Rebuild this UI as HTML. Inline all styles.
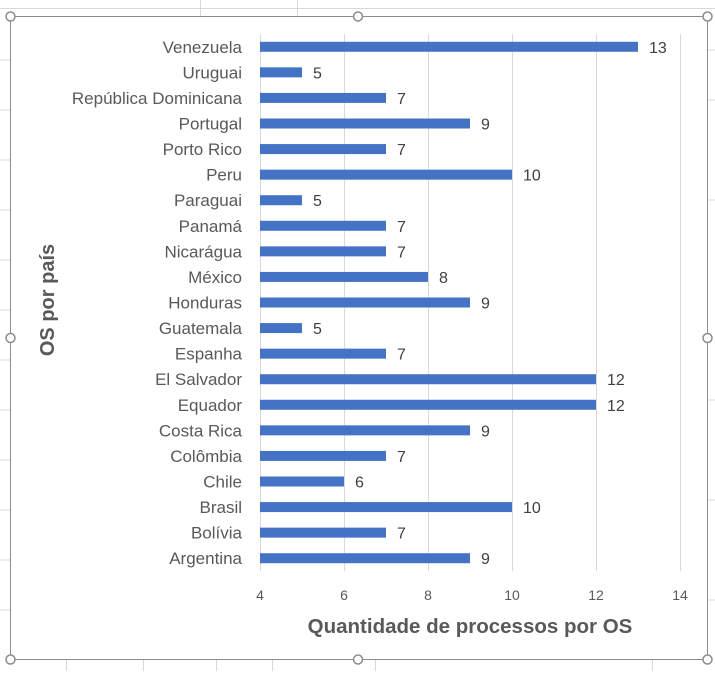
<!DOCTYPE html>
<html><head><meta charset="utf-8"><style>
body{margin:0;background:#fff;width:715px;height:671px;overflow:hidden;font-family:"Liberation Sans",sans-serif}
</style></head><body>
<svg width="715" height="671" xmlns="http://www.w3.org/2000/svg">
<g stroke="#d9d9d9" stroke-width="1">
<line x1="0" y1="8.5" x2="715" y2="8.5"/><line x1="200.5" y1="0" x2="200.5" y2="16"/><line x1="297.5" y1="0" x2="297.5" y2="16"/>
<line x1="0" y1="60" x2="10" y2="60"/><line x1="0" y1="110" x2="10" y2="110"/><line x1="0" y1="160" x2="10" y2="160"/><line x1="0" y1="210" x2="10" y2="210"/><line x1="0" y1="260" x2="10" y2="260"/><line x1="0" y1="310" x2="10" y2="310"/><line x1="0" y1="360" x2="10" y2="360"/><line x1="0" y1="410" x2="10" y2="410"/><line x1="0" y1="460" x2="10" y2="460"/><line x1="0" y1="510" x2="10" y2="510"/><line x1="0" y1="560" x2="10" y2="560"/><line x1="0" y1="610" x2="10" y2="610"/>
<line x1="708" y1="50" x2="715" y2="50"/><line x1="708" y1="100" x2="715" y2="100"/><line x1="708" y1="200" x2="715" y2="200"/><line x1="708" y1="400" x2="715" y2="400"/><line x1="708" y1="500" x2="715" y2="500"/><line x1="708" y1="600" x2="715" y2="600"/>
<line x1="66.5" y1="660" x2="66.5" y2="671"/><line x1="143.5" y1="660" x2="143.5" y2="671"/><line x1="216.5" y1="660" x2="216.5" y2="671"/><line x1="272.5" y1="660" x2="272.5" y2="671"/><line x1="375.5" y1="660" x2="375.5" y2="671"/><line x1="652.5" y1="660" x2="652.5" y2="671"/>
</g>
<rect x="10.5" y="16.5" width="697" height="643" fill="#fff" stroke="#8c8c8c"/>
<g id="grid"></g>
<g id="bars"></g>
<g id="ylab"></g>
<g id="xt"></g>
<text x="470" y="633" text-anchor="middle" font-size="20.5" font-weight="bold" fill="#595959">Quantidade de processos por OS</text>
<text transform="translate(54,300) rotate(-90)" text-anchor="middle" font-size="20" font-weight="bold" fill="#595959">OS por país</text>
<g fill="#fff" stroke="#8c8c8c" stroke-width="1.5">
<circle cx="10.5" cy="16.5" r="4.5"/><circle cx="358" cy="16.5" r="4.5"/><circle cx="707.5" cy="16.5" r="4.5"/>
<circle cx="10.5" cy="338" r="4.5"/><circle cx="707.5" cy="338" r="4.5"/>
<circle cx="10.5" cy="659.5" r="4.5"/><circle cx="358" cy="659.5" r="4.5"/><circle cx="707.5" cy="659.5" r="4.5"/>
</g>
</svg>
<script>
const categories=["Venezuela","Uruguai","República Dominicana","Portugal","Porto Rico","Peru","Paraguai","Panamá","Nicarágua","México","Honduras","Guatemala","Espanha","El Salvador","Equador","Costa Rica","Colômbia","Chile","Brasil","Bolívia","Argentina"];
const values=[13,5,7,9,7,10,5,7,7,8,9,5,7,12,12,9,7,6,10,7,9];
const xTicks=[4,6,8,10,12,14];
const NS="http://www.w3.org/2000/svg";
const x0=260,x1=680,xmin=4,xmax=14,yTop=34,yBot=571;
const xs=v=>x0+(v-xmin)/(xmax-xmin)*(x1-x0);
const step=(yBot-yTop)/categories.length;
const yc=i=>yTop+step*(i+0.5);
function mk(tag,a,parent){const e=document.createElementNS(NS,tag);for(const k in a)e.setAttribute(k,a[k]);parent.appendChild(e);return e;}
const grid=document.getElementById('grid'),bars=document.getElementById('bars'),ylab=document.getElementById('ylab'),xt=document.getElementById('xt');
xTicks.forEach(t=>{
 const l=mk('line',{x1:xs(t)+0.5,x2:xs(t)+0.5,y1:yTop,y2:yBot,stroke:'#d9d9d9'},grid);
 
 
 const tx=mk('text',{x:xs(t),y:600,'text-anchor':'middle','font-size':14,fill:'#595959'},xt);
 tx.textContent=t;
 
 
});
categories.forEach((c,i)=>{
 const y=yc(i);
 const r=mk('rect',{x:xs(xmin),y:y-5,width:xs(values[i])-xs(xmin),height:10,fill:'#4472c4'},bars);
 
 
 const v=mk('text',{x:xs(values[i])+11,y:y+6,'font-size':16,fill:'#404040'},bars);
 v.textContent=values[i];
 
 
 const t=mk('text',{x:242,y:y+6,'text-anchor':'end','font-size':17,fill:'#595959'},ylab);
 t.textContent=c;
 
 
});
</script>
</body></html>
